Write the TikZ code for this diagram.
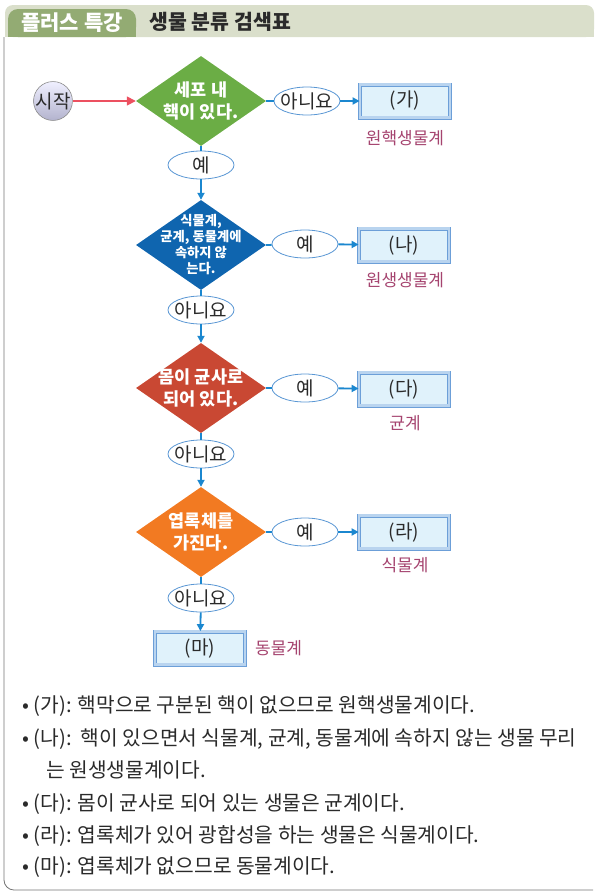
\documentclass[tikz,border=0pt]{standalone}
\usepackage{fontspec}
\setmainfont{Noto Sans CJK KR}
\newfontfamily\notefont{Noto Sans CJK KR}
\usetikzlibrary{arrows.meta,positioning,shapes.geometric}
\definecolor{tabgreen}{HTML}{93AB73}
\definecolor{barlight}{HTML}{DADFCB}
\definecolor{qgreen}{HTML}{6BAD45}
\definecolor{qblue}{HTML}{0F65AF}
\definecolor{qred}{HTML}{C94833}
\definecolor{qorange}{HTML}{F27A22}
\definecolor{flowblue}{HTML}{1B87CF}
\definecolor{ovalline}{HTML}{5A97D4}
\definecolor{boxline}{HTML}{6C9FD8}
\definecolor{boxrim}{HTML}{B9D4EF}
\definecolor{boxfill}{HTML}{E0F2FB}
\definecolor{kingdom}{HTML}{A5446F}
\definecolor{startred}{HTML}{EC5060}
\definecolor{inkdark}{HTML}{2A2A2A}

\begin{document}
\begin{tikzpicture}[x=1pt,y=-1pt,
  question/.style={diamond, inner sep=0pt, minimum width=130pt, minimum height=90pt},
  qtext/.style={text=white, font=\fontsize{17.5}{22}\selectfont\bfseries, align=center, inner sep=0pt},
  oval/.style={ellipse, draw=ovalline, line width=0.8pt, fill=white, minimum width=66pt, minimum height=28pt, inner xsep=-6pt, inner ysep=-2pt, font=\fontsize{19}{22}\selectfont, text=inkdark},
  result/.style={draw=boxline, double=boxrim, double distance=2.4pt, line width=0.8pt, fill=boxfill, minimum width=90pt, minimum height=33pt, inner sep=0pt, font=\fontsize{19}{22}\selectfont, text=inkdark},
  kname/.style={text=kingdom, font=\fontsize{17}{20}\selectfont, inner sep=0pt},
  flow/.style={flowblue, line width=1.8pt},
  flowarr/.style={flow, -{Triangle[length=7pt,width=7pt]}},
  note/.style={anchor=base west, inner sep=0pt, text=inkdark, font=\notefont\fontsize{20.3}{22}\selectfont},
]
\useasboundingbox (0,0) rectangle (595,892);

% header bar and tab
\fill[barlight, rounded corners=8pt] (5,5) rectangle (594,37);
\fill[barlight] (5,20) rectangle (594,37);
\fill[tabgreen, rounded corners=10pt] (8,9) rectangle (136,37);
\fill[tabgreen] (8,22) rectangle (136,37);
\node[text=white, font=\fontsize{21}{24}\selectfont\bfseries] (tab) at (72,23) {플러스 특강};
\node[anchor=west, text=inkdark, font=\fontsize{20.5}{24}\selectfont\bfseries] (title) at (146,22) {생물 분류 검색표};

% frame
\draw[black!55, line width=0.8pt, rounded corners=10pt] (4,37) -- (4,890) -- (593,890);

% start
\node[circle, minimum size=36pt, inner sep=0pt, draw=black!45, line width=0.6pt,
      top color=blue!6, bottom color=blue!35!black!30, font=\fontsize{19}{22}\selectfont, text=inkdark]
      (start) at (53,101) {시작};

% questions
\node[question, fill=qgreen] (q1) at (201,101) {};
\node[qtext] (q1t) at (q1.center) {세포 내\\핵이 있다.};
\node[question, fill=qblue] (q2) at (201,245) {};
\node[qtext, font=\fontsize{13.3}{16}\selectfont\bfseries] (q2t) at (q2.center) {식물계,\\균계, 동물계에\\속하지 않\\는다.};
\node[question, fill=qred] (q3) at (201,388) {};
\node[qtext] (q3t) at (q3.center) {몸이 균사로\\되어 있다.};
\node[question, fill=qorange] (q4) at (201,532) {};
\node[qtext] (q4t) at (q4.center) {엽록체를\\가진다.};

% answers
\node[oval] (no1) at (307,101) {아니요};
\node[oval] (yes1) at (201,165) {예};
\node[oval] (yes2) at (305,244) {예};
\node[oval] (no2) at (201,310) {아니요};
\node[oval] (yes3) at (305,388) {예};
\node[oval] (no3) at (201,454) {아니요};
\node[oval] (yes4) at (305,532) {예};
\node[oval] (no4) at (201,598) {아니요};

% results
\node[result] (ga) at (405,101) {(가)};
\node[result] (na) at (404,245) {(나)};
\node[result] (da) at (404,389) {(다)};
\node[result] (ra) at (404,532) {(라)};
\node[result] (ma) at (200,648) {(마)};
\node[kname] (gak) at (405,138) {원핵생물계};
\node[kname] (nak) at (405,280) {원생생물계};
\node[kname] (dak) at (405,423) {균계};
\node[kname] (rak) at (405,565) {식물계};
\node[kname, anchor=west] (mak) at (255,648) {동물계};

% connectors
\draw[startred, line width=1.6pt, -{Triangle[length=9pt,width=9pt]}] (start) -- (q1.west);
\draw[flow] (q1.east) -- (no1);
\draw[flowarr] (no1) -- (ga);
\draw[flow] (q1.south) -- (yes1);
\draw[flowarr] (yes1) -- (q2.north);
\draw[flow] (q2.east) -- (yes2);
\draw[flowarr] (yes2) -- (na);
\draw[flow] (q2.south) -- (no2);
\draw[flowarr] (no2) -- (q3.north);
\draw[flow] (q3.east) -- (yes3);
\draw[flowarr] (yes3) -- (da);
\draw[flow] (q3.south) -- (no3);
\draw[flowarr] (no3) -- (q4.north);
\draw[flow] (q4.east) -- (yes4);
\draw[flowarr] (yes4) -- (ra);
\draw[flow] (q4.south) -- (no4);
\draw[flowarr] (no4) -- (ma);

% notes
\node[note] (notega) at (22,712) {• (가): 핵막으로 구분된 핵이 없으므로 원핵생물계이다.};
\node[note] (notena) at (22,745) {• (나):\ \ 핵이 있으면서 식물계, 균계, 동물계에 속하지 않는 생물 무리};
\node[note] (notenb) at (46,777) {는 원생생물계이다.};
\node[note] (noteda) at (22,810) {• (다): 몸이 균사로 되어 있는 생물은 균계이다.};
\node[note] (notera) at (22,842) {• (라): 엽록체가 있어 광합성을 하는 생물은 식물계이다.};
\node[note] (notema) at (22,873) {• (마): 엽록체가 없으므로 동물계이다.};
\end{tikzpicture}
\end{document}
